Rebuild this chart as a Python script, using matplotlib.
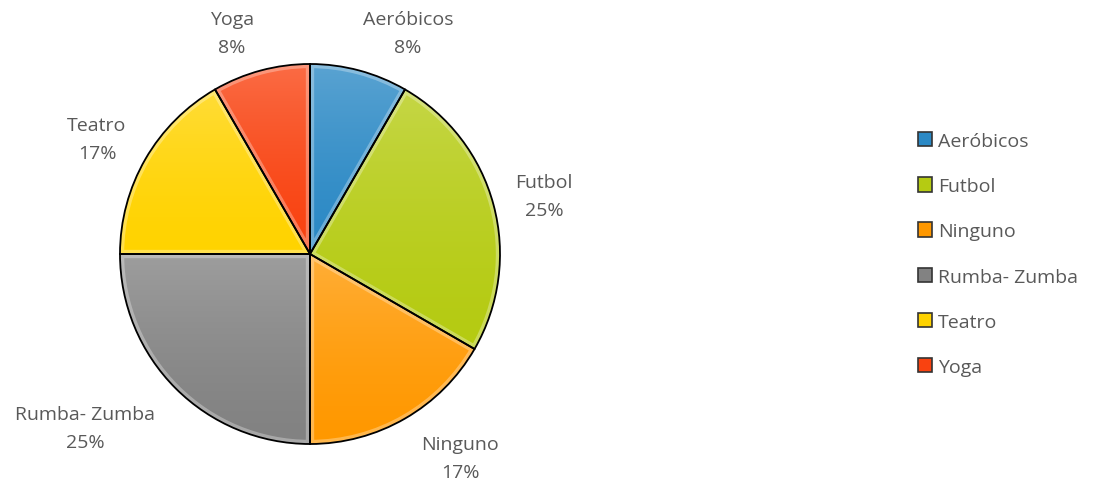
import numpy as np
import matplotlib.pyplot as plt
from matplotlib.patches import Patch, Wedge
from matplotlib.colors import to_rgb

plt.rcParams['font.family'] = ['Open Sans', 'DejaVu Sans']

# actividades y numero de alumnos
categories = ['Aeróbicos', 'Futbol', 'Ninguno', 'Rumba- Zumba', 'Teatro', 'Yoga']
counts = [1, 3, 2, 3, 2, 1]
colors = ['#2b89c5', '#b5cb12', '#ff9800', '#828282', '#ffd300', '#f94210']

W, H = 1106, 485
cx, cy, R = 310, H - 255, 190
# centros de las etiquetas (pixeles desde arriba)
label_xy = [(408, 34), (544, 197), (460, 459), (85, 429), (97, 140), (232, 34)]
txt_color = '#595959'

fig = plt.figure(figsize=(W / 100, H / 100), dpi=100)
ax = fig.add_axes([0, 0, 1, 1])

total = sum(counts)
wedges, _ = ax.pie(counts, colors=colors, startangle=90, counterclock=False,
                   center=(cx, cy), radius=R,
                   wedgeprops=dict(edgecolor='none', linewidth=0))

for w, c in zip(wedges, colors):
    base = np.array(to_rgb(c))
    (x0, y0), (x1, y1) = w.get_path().get_extents().get_points()
    t = np.linspace(0, 1, 256)[:, None]  # 0 abajo, 1 arriba
    mix = 0.22 * t ** 1.5
    grad = base[None, :] * (1 - mix) + mix
    grad = np.repeat(grad[:, None, :], 2, axis=1)
    im = ax.imshow(grad, extent=[x0, x1, y0, y1], origin='lower',
                   interpolation='bilinear', zorder=2)
    im.set_clip_path(w)
    # brillo del bisel en el borde
    hl = Wedge(w.center, w.r, w.theta1, w.theta2, facecolor='none',
               edgecolor='white', alpha=0.3, linewidth=6, zorder=3)
    ax.add_patch(hl)
    hl.set_clip_path(w)
    ax.add_patch(Wedge(w.center, w.r, w.theta1, w.theta2, facecolor='none',
                       edgecolor='black', linewidth=1.3, zorder=4))

for cat, n, (lx, ly) in zip(categories, counts, label_xy):
    pct = round(100 * n / total)
    ax.text(lx, H - ly, f'{cat}\n{pct}%', ha='center', va='center',
            multialignment='center', fontsize=14, color=txt_color,
            linespacing=1.75)

handles = [Patch(facecolor=c, edgecolor='#333333', linewidth=1.2) for c in colors]
fig.legend(handles, categories, loc='center left',
           bbox_to_anchor=(900 / W, 1 - 255 / H), frameon=False,
           handlelength=0.75, handleheight=0.75, handletextpad=0.3,
           labelspacing=1.4, fontsize=14, labelcolor=txt_color)

ax.set_xlim(0, W)
ax.set_ylim(0, H)
ax.axis('off')

fig.savefig('out.png', dpi=100)
